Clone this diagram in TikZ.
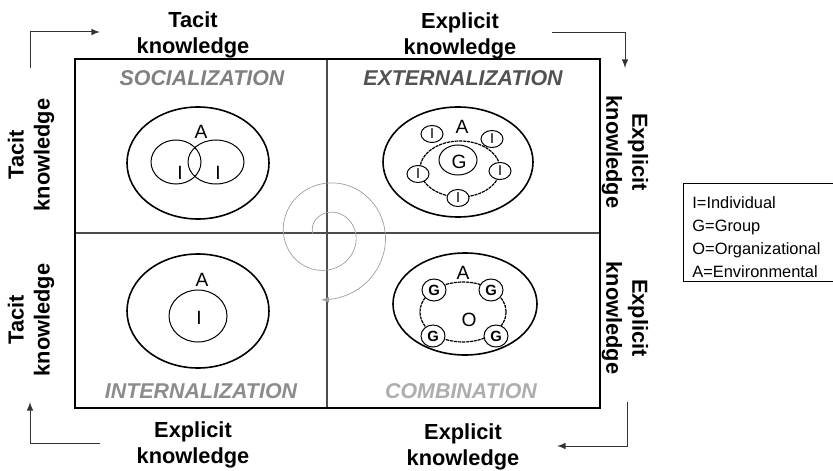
\documentclass[tikz,border=0pt]{standalone}
\usepackage{fontspec}
\setmainfont{Liberation Sans}
\usetikzlibrary{shapes.geometric,arrows,positioning}

\begin{document}
\begin{tikzpicture}[x=0.5pt,y=-0.5pt,
        kn/.style={font=\fontsize{10.9}{13}\selectfont\bfseries, align=center, inner sep=0pt},
        quadtitle/.style={font=\fontsize{10.7}{13}\selectfont\bfseries\itshape, inner sep=0pt},
        env/.style={ellipse, draw, line width=0.8pt, inner sep=0pt},
        ring/.style={ellipse, draw, line width=0.6pt, dash pattern=on 1.6pt off 0.4pt, inner sep=0pt},
        memb/.style={ellipse, draw, line width=0.5pt, inner sep=0pt, fill=white},
        letter/.style={font=\fontsize{9.6}{11}\selectfont, inner sep=0pt},
        small/.style={font=\fontsize{7.2}{8}\selectfont, inner sep=0pt},
        cycle/.style={-latex, line width=0.5pt, draw=black!80}]
        \useasboundingbox (0,0) rectangle (833,470);

        % frame and quadrants
        \coordinate (nw) at (75,59);
        \coordinate (se) at (600,408);
        \coordinate (mtop) at (327,59);
        \coordinate (mbot) at (327,408);
        \coordinate (mleft) at (75,233);
        \coordinate (mright) at (600,233);
        \draw[black!70, line width=0.7pt] (mtop) -- (mbot);
        \draw[black!70, line width=0.7pt] (mleft) -- (mright);
        \draw[line width=1.1pt] (nw) rectangle (se);

        \node[quadtitle, text=black!50] (soc) at (202,78) {SOCIALIZATION};
        \node[quadtitle, text=black!68] (ext) at (463,78) {EXTERNALIZATION};
        \node[quadtitle, text=black!45] (int) at (201,391) {INTERNALIZATION};
        \node[quadtitle, text=black!32] (comb) at (461,391) {COMBINATION};

        % knowledge labels
        \node[kn] (ktop1) at (193,35) {Tacit\\knowledge};
        \node[kn] (ktop2) at (460,36) {Explicit\\knowledge};
        \node[kn] (kbot1) at (193,445) {Explicit\\knowledge};
        \node[kn] (kbot2) at (463,447) {Explicit\\knowledge};
        \node[kn, rotate=90] (kleft1) at (31,155) {Tacit\\knowledge};
        \node[kn, rotate=90] (kleft2) at (31,320) {Tacit\\knowledge};
        \node[kn, rotate=-90] (kright1) at (625,152) {Explicit\\knowledge};
        \node[kn, rotate=-90] (kright2) at (625,318) {Explicit\\knowledge};

        % cycle arrows
        \coordinate (c1a) at (30,68);   \coordinate (c1b) at (100,32);
        \coordinate (c2a) at (552,33);  \coordinate (c2b) at (625,68);
        \coordinate (c3a) at (627,402); \coordinate (c3b) at (557,446);
        \coordinate (c4a) at (100,443); \coordinate (c4b) at (30,402);
        \draw[cycle] (c1a) |- (c1b);
        \draw[cycle] (c2a) -| (c2b);
        \draw[cycle] (c3a) |- (c3b);
        \draw[cycle] (c4a) -| (c4b);

        % spiral
        \draw[-latex, black!38, line width=0.35pt]
            plot[domain=180:815, samples=120, smooth]
            ({327+(14+0.082*(\x-180))*cos(\x)}, {234+(14+0.082*(\x-180))*sin(\x)});

        % socialization
        \node[env, minimum width=71pt, minimum height=56pt] (socA) at (198,163) {};
        \node[memb, fill=none, minimum width=25pt, minimum height=22pt] (socI1) at (176,162) {};
        \node[memb, fill=none, minimum width=28pt, minimum height=22pt] (socI2) at (216,162) {};
        \node[letter] at (201,132) {A};
        \node[letter] at (180,173) {I};
        \node[letter] at (218,173) {I};

        % externalization
        \node[env, minimum width=75pt, minimum height=55pt] (extA) at (458,162) {};
        \node[ring, minimum width=40pt, minimum height=28pt] (extG) at (460,169) {};
        \node[memb, minimum width=19pt, minimum height=15pt] (extGin) at (458,160) {};
        \node[letter] at (462,127) {A};
        \node[letter] at (459,162) {G};
        \foreach \px/\py [count=\i] in {432/134, 492/139, 418/174, 500/171, 458/198}
            \node[memb, minimum width=11pt, minimum height=8.5pt, small] (extI\i) at (\px,\py) {I};

        % internalization
        \node[env, minimum width=71pt, minimum height=57pt] (intA) at (198,311) {};
        \node[memb, minimum width=29pt, minimum height=26pt] (intI) at (198,316) {};
        \node[letter] at (202,280) {A};
        \node[letter] at (199,318) {I};

        % combination
        \node[env, minimum width=72pt, minimum height=51pt] (combA) at (465,304) {};
        \node[ring, minimum width=43pt, minimum height=30pt] (combO) at (463,312) {};
        \node[letter] at (463,273) {A};
        \node[letter] at (469,320) {O};
        \foreach \px/\py [count=\i] in {434/290, 491/290, 433/336, 496/336}
            \node[memb, minimum width=12pt, minimum height=11pt,
                  font=\fontsize{7.4}{8}\selectfont\bfseries] (combG\i) at (\px,\py) {G};

        % legend
        \draw[line width=0.5pt] (683,183) rectangle (845,281);
        \node[anchor=west, align=left, inner sep=0pt,
              font=\fontsize{8.2}{11.6}\selectfont] (legend) at (692,237)
              {I=Individual\\G=Group\\O=Organizational\\A=Environmental};

        \end{tikzpicture}
\end{document}
